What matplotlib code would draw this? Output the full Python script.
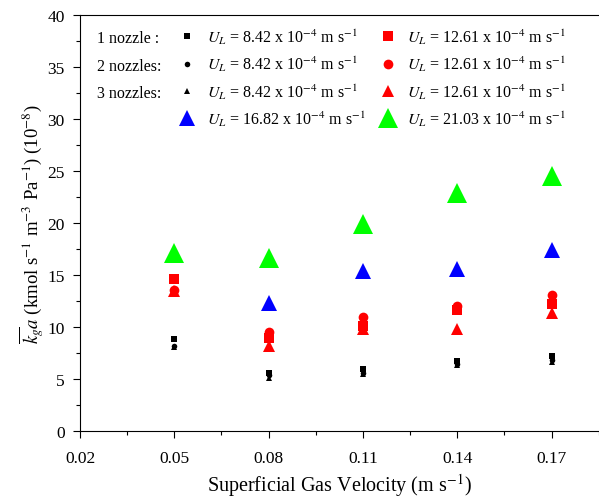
import matplotlib
matplotlib.use("Agg")
import numpy as np
import matplotlib.pyplot as plt
from matplotlib.lines import Line2D
from matplotlib.ticker import MultipleLocator, FormatStrFormatter

plt.rcParams["font.family"] = ["Liberation Serif", "DejaVu Serif"]
plt.rcParams["mathtext.fontset"] = "stix"

# superficial gas velocity (m/s)
ug = [0.05, 0.08, 0.11, 0.14, 0.17]

# kga values (1e-8 kmol s-1 m-3 Pa-1)
n1_842 = [8.8, 5.6, 6.0, 6.7, 7.2]
n2_842 = [8.2, 5.4, 5.6, 6.4, 6.8]
n3_842 = [8.1, 5.1, 5.5, 6.3, 6.6]
n1_1261 = [14.6, 8.9, 10.1, 11.6, 12.2]
n2_1261 = [13.6, 9.5, 11.0, 12.0, 13.1]
n3_1261 = [13.5, 8.2, 9.8, 9.8, 11.3]
n3_1682 = [None, 12.3, 15.4, 15.6, 17.4]
n3_2103 = [17.1, 16.6, 19.9, 22.9, 24.5]

row_labels = ["1 nozzle :", "2 nozzles:", "3 nozzles:"]
col1_vals = ["8.42", "8.42", "8.42", "16.82"]
col2_vals = ["12.61", "12.61", "12.61", "21.03"]


def ul_text(v):
    return r"$U_L$ = " + v + r" x 10$^{-4}$ m s$^{-1}$"


def pts(vals):
    x = [u for u, v in zip(ug, vals) if v is not None]
    y = [v for v in vals if v is not None]
    return x, y


fig = plt.figure(figsize=(5.99, 5.02), dpi=100)
ax = fig.add_axes([0.1336, 0.1394, 0.866, 0.829])

col1 = [(n1_842, "s", "black", 4), (n2_842, "o", "black", 4),
        (n3_842, "^", "black", 4.5), (n3_1682, "^", "#0000ff", 11)]
col2 = [(n1_1261, "s", "#ff0000", 7), (n2_1261, "o", "#ff0000", 7),
        (n3_1261, "^", "#ff0000", 8), (n3_2103, "^", "#00ff00", 14)]

handles = []
labels = []
for (vals, m, c, ms), v in zip(col1 + col2, col1_vals + col2_vals):
    x, y = pts(vals)
    h, = ax.plot(x, y, linestyle="none", marker=m, color=c, markersize=ms, mew=0)
    handles.append(h)
    labels.append(ul_text(v))

ax.set_xlim(0.02, 0.185)
ax.set_ylim(0, 40)
ax.xaxis.set_major_locator(MultipleLocator(0.03, offset=0.02))
ax.xaxis.set_minor_locator(MultipleLocator(0.015, offset=0.005))
ax.yaxis.set_major_locator(MultipleLocator(5))
ax.yaxis.set_minor_locator(MultipleLocator(2.5))
ax.xaxis.set_major_formatter(FormatStrFormatter("%.2f"))
ax.tick_params(which="major", direction="out", length=5, labelsize=12.5, width=0.8)
ax.tick_params(which="minor", direction="out", length=3, width=0.8)
ax.tick_params(axis="x", which="major", pad=9)
ax.tick_params(axis="y", which="major", pad=6)
ax.spines["right"].set_visible(False)

ax.set_xlabel(r"Superficial Gas Velocity (m s$^{-1}$)", fontsize=14.5, labelpad=3)
ax.set_ylabel(r"$\overline{k_g}a$ (kmol s$^{-1}$ m$^{-3}$ Pa$^{-1}$) (10$^{-8}$)",
              fontsize=13.5, labelpad=1)

leg = ax.legend(handles, labels, ncol=2, frameon=False, fontsize=11.5,
                loc="upper left", bbox_to_anchor=(0.17, 0.995),
                handlelength=1.2, handletextpad=0.6, columnspacing=0.8,
                labelspacing=0.5, borderaxespad=0.2)

# row labels aligned with legend rows
fig.canvas.draw()
inv = fig.transFigure.inverted()
for txt, lab in zip(leg.get_texts()[4:7], row_labels):
    bb = txt.get_window_extent()
    (_, y0), (_, y1) = inv.transform([(bb.x0, bb.y0), (bb.x1, bb.y1)])
    fig.text(97 / 599, (y0 + y1) / 2 - 0.004, lab, fontsize=11.5, va="center", ha="left")

fig.savefig("out.png", dpi=100)
